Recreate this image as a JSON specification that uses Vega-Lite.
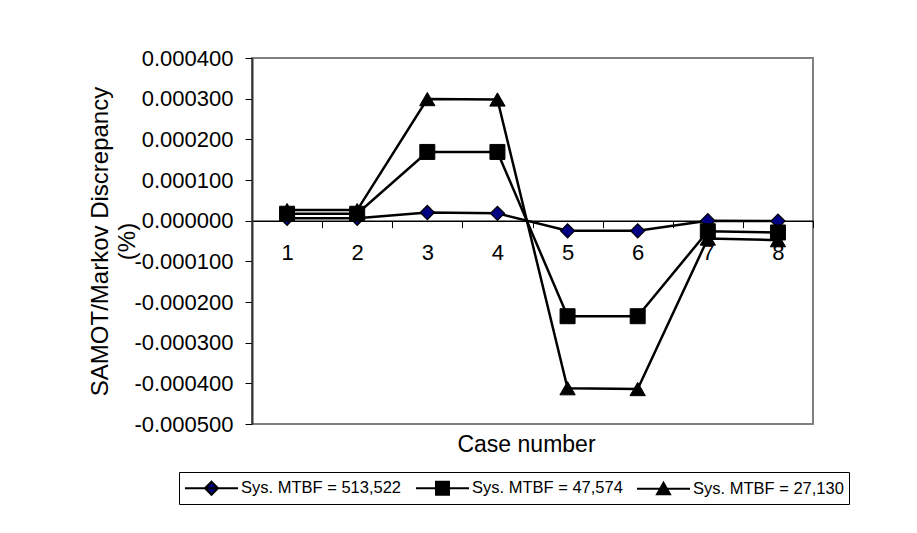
{
  "$schema": "https://vega.github.io/schema/vega-lite/v6.json",
  "width": 561,
  "height": 366,
  "autosize": {"type": "none"},
  "padding": {"left": 252, "top": 58, "right": 104, "bottom": 109},
  "background": "white",
  "config": {
    "font": "Liberation Sans",
    "view": {"stroke": "#808080", "strokeWidth": 2},
    "axis": {"grid": false, "labelColor": "black", "titleColor": "black", "tickColor": "black", "domainColor": "black", "titleFontWeight": "normal", "labelFont": "Liberation Sans", "titleFont": "Liberation Sans"}
  },
  "data": {
    "values": [
      {"case": 1, "series": "Sys. MTBF = 513,522", "value": 0.000006},
      {"case": 2, "series": "Sys. MTBF = 513,522", "value": 0.000006},
      {"case": 3, "series": "Sys. MTBF = 513,522", "value": 0.000020},
      {"case": 4, "series": "Sys. MTBF = 513,522", "value": 0.000018},
      {"case": 5, "series": "Sys. MTBF = 513,522", "value": -0.000025},
      {"case": 6, "series": "Sys. MTBF = 513,522", "value": -0.000025},
      {"case": 7, "series": "Sys. MTBF = 513,522", "value": 0.000000},
      {"case": 8, "series": "Sys. MTBF = 513,522", "value": -0.000001},
      {"case": 1, "series": "Sys. MTBF = 47,574", "value": 0.000017},
      {"case": 2, "series": "Sys. MTBF = 47,574", "value": 0.000017},
      {"case": 3, "series": "Sys. MTBF = 47,574", "value": 0.000169},
      {"case": 4, "series": "Sys. MTBF = 47,574", "value": 0.000169},
      {"case": 5, "series": "Sys. MTBF = 47,574", "value": -0.000235},
      {"case": 6, "series": "Sys. MTBF = 47,574", "value": -0.000235},
      {"case": 7, "series": "Sys. MTBF = 47,574", "value": -0.000026},
      {"case": 8, "series": "Sys. MTBF = 47,574", "value": -0.000029},
      {"case": 1, "series": "Sys. MTBF = 27,130", "value": 0.000026},
      {"case": 2, "series": "Sys. MTBF = 27,130", "value": 0.000026},
      {"case": 3, "series": "Sys. MTBF = 27,130", "value": 0.000299},
      {"case": 4, "series": "Sys. MTBF = 27,130", "value": 0.000298},
      {"case": 5, "series": "Sys. MTBF = 27,130", "value": -0.000412},
      {"case": 6, "series": "Sys. MTBF = 27,130", "value": -0.000414},
      {"case": 7, "series": "Sys. MTBF = 27,130", "value": -0.000044},
      {"case": 8, "series": "Sys. MTBF = 27,130", "value": -0.000048}
    ]
  },
  "encoding": {
    "x": {
      "field": "case",
      "type": "ordinal",
      "scale": {"type": "band", "paddingInner": 0, "paddingOuter": 0},
      "axis": {
        "offset": -203.33,
        "labelAngle": 0,
        "labelFontSize": 22,
        "labelPadding": 15,
        "tickSize": 7,
        "tickBand": "extent",
        "domainWidth": 1.5,
        "tickWidth": 1,
        "title": "Case number",
        "titleFontSize": 23,
        "titleX": 274,
        "titleY": 230.5,
        "titleAlign": "center",
        "titleBaseline": "alphabetic",
        "zindex": 0
      }
    },
    "y": {
      "field": "value",
      "type": "quantitative",
      "scale": {"domain": [-0.0005, 0.0004], "nice": false, "zero": false},
      "axis": {
        "values": [-0.0005, -0.0004, -0.0003, -0.0002, -0.0001, 0, 0.0001, 0.0002, 0.0003, 0.0004],
        "format": ".6f",
        "labelExpr": "replace(datum.label, '\u2212', '-')",
        "labelFontSize": 22,
        "labelPadding": 12,
        "tickSize": 7,
        "domainWidth": 2,
        "domainColor": "#333333",
        "title": ["SAMOT/Markov Discrepancy", "(%)"],
        "titleFontSize": 24,
        "titleLineHeight": 27,
        "titleAngle": -90,
        "titleX": -145,
        "titleY": 183,
        "titleAlign": "center",
        "titleBaseline": "alphabetic"
      }
    }
  },
  "layer": [
    {
      "mark": {"type": "line", "color": "black", "strokeWidth": 2.5},
      "encoding": {"detail": {"field": "series"}}
    },
    {
      "transform": [{"filter": "datum.series === 'Sys. MTBF = 513,522'"}],
      "mark": {"type": "point", "shape": "diamond", "filled": true, "fill": "#000080", "stroke": "black", "strokeWidth": 1.2, "size": 200, "opacity": 1}
    },
    {
      "transform": [{"filter": "datum.series === 'Sys. MTBF = 47,574'"}],
      "mark": {"type": "point", "shape": "square", "filled": true, "fill": "black", "stroke": "black", "strokeWidth": 1, "size": 225, "opacity": 1}
    },
    {
      "transform": [{"filter": "datum.series === 'Sys. MTBF = 27,130'"}],
      "mark": {"type": "point", "shape": "triangle-up", "filled": true, "fill": "black", "stroke": "black", "strokeWidth": 1, "size": 235, "opacity": 1}
    },
    {
      "transform": [{"filter": "datum.case > 100"}],
      "mark": {"type": "point", "opacity": 1, "strokeWidth": 2, "size": 400},
      "encoding": {
        "shape": {
          "field": "series",
          "type": "nominal",
          "scale": {"domain": ["Sys. MTBF = 513,522", "Sys. MTBF = 47,574", "Sys. MTBF = 27,130"], "range": ["M-1,0H4.3M1,0L1.65,-0.65L2.3,0L1.65,0.65Z", "M-1,0H4.3M1,-0.65H2.3V0.65H1Z", "M-1,0H4.3M1,0.55L1.65,-0.6L2.3,0.55Z"]},
          "legend": {
            "title": null,
            "orient": "none",
            "direction": "horizontal",
            "legendX": -73,
            "legendY": 414,
            "padding": 5,
            "strokeColor": "black",
            "fillColor": "white",
            "labelFontSize": 16.5,
            "labelColor": "black",
            "labelOffset": 35,
            "columnPadding": 10,
            "symbolSize": 400,
            "symbolOpacity": 1,
            "symbolStrokeWidth": 2,
            "labelLimit": 0
          }
        },
        "fill": {
          "field": "series",
          "type": "nominal",
          "scale": {"domain": ["Sys. MTBF = 513,522", "Sys. MTBF = 47,574", "Sys. MTBF = 27,130"], "range": ["#000080", "black", "black"]}
        },
        "stroke": {
          "field": "series",
          "type": "nominal",
          "scale": {"domain": ["Sys. MTBF = 513,522", "Sys. MTBF = 47,574", "Sys. MTBF = 27,130"], "range": ["black", "black", "black"]}
        }
      }
    }
  ]
}
